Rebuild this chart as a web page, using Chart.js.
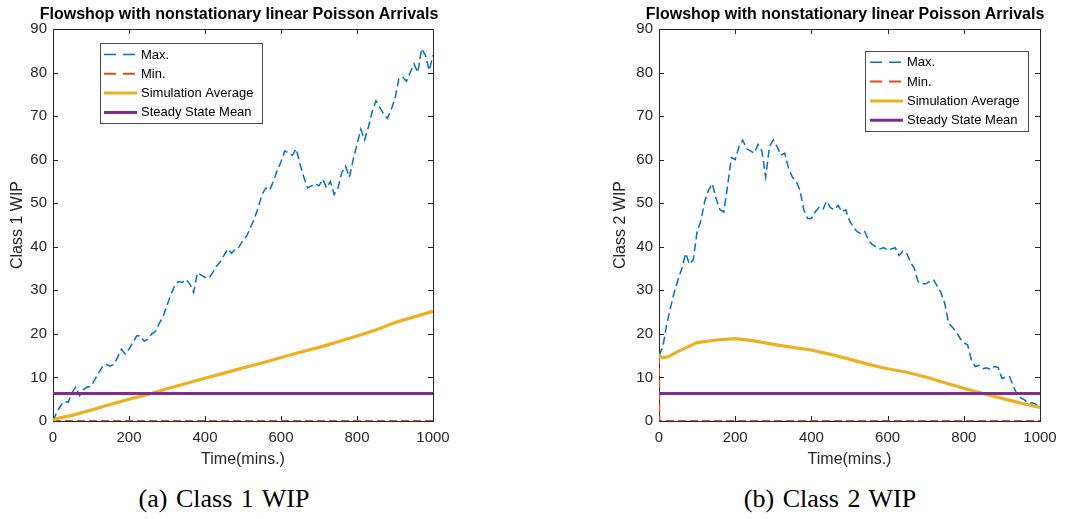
<!DOCTYPE html>
<html>
<head>
<meta charset="utf-8">
<title>Flowshop WIP</title>
<script src="https://cdn.jsdelivr.net/npm/chart.js@4.4.1/dist/chart.umd.min.js"></script>
<style>
    body { margin: 0; background: #fff; width: 1078px; height: 519px; position: relative; overflow: hidden; }
    .panel { position: absolute; top: 0; }
    .title {
        position: absolute; top: 6px; width: 500px; text-align: center; white-space: nowrap;
        font-family: "Liberation Sans", Arial, sans-serif; font-size: 16px; line-height: 16px;
        font-weight: bold; color: #000;
    }
    .caption {
        position: absolute; width: 300px; text-align: center;
        font-family: "Liberation Serif", serif; font-size: 26px; line-height: 26px;
        word-spacing: 2px; color: #000;
    }
</style>
</head>
<body>
<canvas id="wip1" class="panel" width="470" height="480" style="left:0px"></canvas>
<canvas id="wip2" class="panel" width="470" height="480" style="left:600px"></canvas>
<div class="title" id="title1" style="left:-11px"></div>
<div class="title" id="title2" style="left:595px"></div>
<div class="caption" style="left:74px; top:486px">(a) Class 1 WIP</div>
<div class="caption" style="left:680px; top:486px">(b) Class 2 WIP</div>

<script>
// --- data (time in minutes, WIP in jobs) ---
const sampleTimes = [
    0, 10, 20, 30, 40, 50, 60, 70, 80, 90,
    100, 110, 120, 130, 140, 150, 160, 170, 180, 190,
    200, 210, 220, 230, 240, 250, 260, 270, 280, 290,
    300, 310, 320, 330, 340, 350, 360, 370, 380, 390,
    400, 410, 420, 430, 440, 450, 460, 470, 480, 490,
    500, 510, 520, 530, 540, 550, 560, 570, 580, 590,
    600, 610, 620, 630, 640, 650, 660, 670, 680, 690,
    700, 710, 720, 730, 740, 750, 760, 770, 780, 790,
    800, 810, 820, 830, 840, 850, 860, 870, 880, 890,
    900, 910, 920, 930, 940, 950, 960, 970, 980, 990,
    1000
];

// Class 1
const max1 = [
    0, 2, 3.5, 4.5, 4.3, 6.5, 7.8, 5.8, 7.2, 7.8,
    8, 9.5, 11, 12.5, 13, 12.6, 13, 14.6, 16.5, 15.4,
    16.5, 18, 19.5, 19.6, 18.3, 18.8, 20, 20.6, 22.5, 24,
    26.5, 29, 31, 32, 31.8, 32.5, 31.5, 29.5, 34, 33.5,
    33, 32.8, 34, 35.5, 36.5, 38, 39.5, 38.5, 39.5, 40,
    41.5, 42.5, 44.5, 46.5, 49, 52, 53.5, 53, 55, 57.5,
    59.5, 62, 61.5, 61, 62.5, 59, 56, 53.5, 54, 54.5,
    54, 55.5, 53.5, 55, 52, 53.5, 57, 58.5, 56, 60,
    63.5, 67, 64.5, 67.5, 71, 73.5, 72, 70.5, 69.5, 71.5,
    74, 78.5, 79, 78, 80, 82, 80, 85.5, 84, 80.5,
    84
];
const minTimes1 = [0, 1000];
const min1 = [0, 0];
const avgTimes1 = [0, 10, 50, 100, 150, 200, 250, 300, 350, 400, 450, 500, 550, 600, 650, 700, 750, 800, 850, 900, 950, 1000];
const avg1 = [0, 0.6, 1.3, 2.5, 3.8, 5.0, 6.1, 7.4, 8.6, 9.8, 11.0, 12.2, 13.3, 14.6, 15.8, 16.9, 18.2, 19.5, 20.9, 22.6, 23.9, 25.2];

// Class 2
const max2 = [
    15, 17, 22, 26, 29.5, 32.5, 35, 38.5, 36, 37,
    43.5, 46, 50.5, 53, 54.5, 51, 48.5, 48, 54, 60.5,
    60, 63, 64.5, 62.5, 62, 61.5, 63.5, 62, 56, 63,
    64.5, 63, 61, 61.5, 58, 56, 55, 53, 48.5, 46.5,
    46.5, 48, 49, 48.5, 50.5, 49, 48.5, 49.5, 48, 48.5,
    46, 44.5, 43.5, 43, 43.5, 41.5, 40.5, 40, 39.5, 39.8,
    39.2, 39.5, 39.8, 38, 39, 38.5, 36.5, 35, 32, 31.5,
    31.5, 32, 32.5, 31, 29.5, 27, 22.5, 21.5, 20.5, 19,
    18, 17.5, 14, 12.5, 12.8, 12, 12.2, 11.8, 12.5, 12.3,
    9.8, 10, 10.2, 8, 6, 5.3, 4.8, 4, 4.2, 3.8,
    3.5
];
const minTimes2 = [0, 1, 1000];
const min2 = [15, 0, 0];
const avgTimes2 = [0, 10, 25, 50, 100, 150, 200, 250, 300, 350, 400, 450, 500, 550, 600, 650, 700, 750, 800, 850, 900, 950, 1000];
const avg2 = [15.1, 14.5, 14.8, 16.0, 18.0, 18.6, 18.9, 18.4, 17.6, 16.9, 16.3, 15.3, 14.2, 13.0, 12.0, 11.2, 10.1, 8.8, 7.5, 6.3, 5.2, 4.1, 3.1];

const steadyTimes = [0, 1000];
const steadyMean = [6.3, 6.3];

const xTicks = [0, 200, 400, 600, 800, 1000];
const yTicks = [0, 10, 20, 30, 40, 50, 60, 70, 80, 90];

const seriesLabels = ['Max.', 'Min.', 'Simulation Average', 'Steady State Mean'];
const titleText = 'Flowshop with nonstationary linear Poisson Arrivals';

// MATLAB default colours
const COLORS = ['#0072BD', '#D95319', '#EDB120', '#7E2F8E'];
const AXIS_COLOR = '#262626';
const FONT = '"Liberation Sans", Arial, sans-serif';

document.getElementById('title1').textContent = titleText;
document.getElementById('title2').textContent = titleText;

function toPoints(times, values) {
    return times.map((t, i) => ({ x: t, y: values[i] }));
}

// box + inward ticks on all four sides, drawn under the data like MATLAB
const matlabBox = {
    id: 'matlabBox',
    beforeDatasetsDraw(chart) {
        const { ctx, chartArea: a, scales: { x, y } } = chart;
        const len = 5;
        ctx.save();
        ctx.strokeStyle = AXIS_COLOR;
        ctx.lineWidth = 1;
        ctx.strokeRect(Math.round(a.left) + 0.5, Math.round(a.top) + 0.5,
            Math.round(a.right) - Math.round(a.left), Math.round(a.bottom) - Math.round(a.top));
        ctx.beginPath();
        x.ticks.forEach(t => {
            const px = Math.round(x.getPixelForValue(t.value)) + 0.5;
            ctx.moveTo(px, a.bottom); ctx.lineTo(px, a.bottom - len);
            ctx.moveTo(px, a.top); ctx.lineTo(px, a.top + len);
        });
        y.ticks.forEach(t => {
            const py = Math.round(y.getPixelForValue(t.value)) + 0.5;
            ctx.moveTo(a.left, py); ctx.lineTo(a.left + len, py);
            ctx.moveTo(a.right, py); ctx.lineTo(a.right - len, py);
        });
        ctx.stroke();
        ctx.restore();
    }
};

// boxed legend inside the axes
const matlabLegend = {
    id: 'matlabLegend',
    afterDraw(chart, args, opts) {
        const ctx = chart.ctx;
        ctx.save();
        ctx.fillStyle = '#fff';
        ctx.fillRect(opts.x, opts.y, opts.w, opts.h);
        ctx.strokeStyle = '#4a4a4a';
        ctx.lineWidth = 1;
        ctx.strokeRect(opts.x + 0.5, opts.y + 0.5, opts.w, opts.h);
        ctx.font = '13px ' + FONT;
        ctx.textBaseline = 'middle';
        chart.data.datasets.forEach((ds, i) => {
            const cy = opts.y + opts.firstRow + i * opts.rowGap;
            ctx.beginPath();
            ctx.setLineDash(ds.borderDash.length ? [12, 7] : []);
            ctx.strokeStyle = ds.borderColor;
            ctx.lineWidth = Math.min(ds.borderWidth, 3);
            ctx.moveTo(opts.x + opts.lineStart, cy);
            ctx.lineTo(opts.x + opts.lineStart + 33, cy);
            ctx.stroke();
            ctx.setLineDash([]);
            ctx.fillStyle = '#000';
            ctx.fillText(ds.label, opts.x + opts.lineStart + 37, cy + 0.5);
        });
        ctx.restore();
    }
};

function buildChart(canvasId, cfg) {
    const datasets = [
        { label: seriesLabels[0], data: toPoints(sampleTimes, cfg.max), borderColor: COLORS[0], borderWidth: 1.5, borderDash: [8, 4], order: 4 },
        { label: seriesLabels[1], data: toPoints(cfg.minTimes, cfg.min), borderColor: COLORS[1], borderWidth: 2, borderDash: [8, 4], order: 3 },
        { label: seriesLabels[2], data: toPoints(cfg.avgTimes, cfg.avg), borderColor: COLORS[2], borderWidth: 3.2, borderDash: [], order: 2 },
        { label: seriesLabels[3], data: toPoints(steadyTimes, steadyMean), borderColor: COLORS[3], borderWidth: 3, borderDash: [], order: 1 }
    ];
    datasets.forEach(d => { d.pointRadius = 0; d.tension = 0; d.fill = false; });

    return new Chart(document.getElementById(canvasId), {
        type: 'line',
        data: { datasets },
        options: {
            responsive: false,
            animation: false,
            events: [],
            layout: { padding: { left: 0, right: cfg.padRight, top: 29, bottom: 9 } },
            plugins: {
                legend: { display: false },
                tooltip: { enabled: false },
                title: { display: false },
                matlabLegend: cfg.legend
            },
            scales: {
                x: {
                    type: 'linear',
                    min: 0, max: 1000,
                    afterFit: s => { s.height = 50; },
                    afterBuildTicks: s => { s.ticks = xTicks.map(v => ({ value: v })); },
                    grid: { display: false, drawTicks: false },
                    border: { display: false },
                    ticks: { color: AXIS_COLOR, font: { family: FONT, size: 15 }, padding: 8, maxRotation: 0, callback: v => String(v) },
                    title: { display: true, text: 'Time(mins.)', color: AXIS_COLOR, font: { family: FONT, size: 16 }, padding: { top: 0, bottom: 2 } }
                },
                y: {
                    type: 'linear',
                    min: 0, max: 90,
                    afterFit: s => { s.width = cfg.yWidth; },
                    afterBuildTicks: s => { s.ticks = yTicks.map(v => ({ value: v })); },
                    grid: { display: false, drawTicks: false },
                    border: { display: false },
                    ticks: { color: AXIS_COLOR, font: { family: FONT, size: 15 }, padding: 6, callback: v => String(v) },
                    title: { display: true, text: cfg.yTitle, color: AXIS_COLOR, font: { family: FONT, size: 16 }, padding: { top: cfg.yTitlePad, bottom: 0 } }
                }
            }
        },
        plugins: [matlabBox, matlabLegend]
    });
}

buildChart('wip1', {
    max: max1, minTimes: minTimes1, min: min1, avgTimes: avgTimes1, avg: avg1,
    yTitle: 'Class 1 WIP', yWidth: 53, yTitlePad: 8, padRight: 37,
    legend: { x: 100, y: 43, w: 162, h: 80, firstRow: 11.5, rowGap: 19.3, lineStart: 4 }
});

buildChart('wip2', {
    max: max2, minTimes: minTimes2, min: min2, avgTimes: avgTimes2, avg: avg2,
    yTitle: 'Class 2 WIP', yWidth: 59, yTitlePad: 11, padRight: 30,
    legend: { x: 265, y: 51, w: 163, h: 80, firstRow: 11.3, rowGap: 19.3, lineStart: 5 }
});
</script>
</body>
</html>
